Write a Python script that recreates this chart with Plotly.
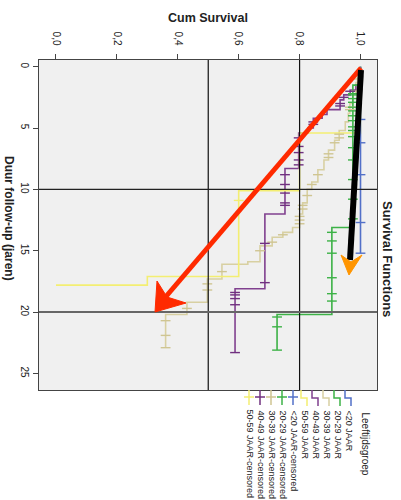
import plotly.graph_objects as go

# ---------------- data ----------------
groups = ["<20 JAAR", "20-29 JAAR", "30-39 JAAR", "40-49 JAAR", "50-59 JAAR"]

t_lt20 = [0.0, 15.2]
s_lt20 = [1.0, 1.0]
c_lt20 = [4.3, 6.2, 8.8, 12.7, 15.2]

t_2029 = [0.0, 1.5, 13.1, 20.2, 23.1]
s_2029 = [1.0, 0.975, 0.906, 0.726, 0.726]
c_2029 = [2.2, 2.3, 2.6, 2.9, 3.3, 3.6, 4.0, 4.4, 4.9, 5.2, 5.7, 6.6, 7.6, 9.2,
          10.8, 12.4, 13.5, 14.2, 15.2, 17.2, 18.5, 19.1, 20.4, 21.2, 23.1]

t_3039 = [0.0, 0.6, 1.3, 2.2, 3.0, 3.8, 4.5, 5.2, 6.0, 6.8, 7.6, 8.4, 9.4, 10.0,
          11.1, 12.0, 13.1, 13.5, 13.9, 14.6, 15.9, 16.1, 17.3, 19.2, 20.2, 22.9]
s_3039 = [1.0, 0.99, 0.985, 0.975, 0.965, 0.96, 0.95, 0.93, 0.915, 0.895, 0.88,
          0.86, 0.84, 0.825, 0.81, 0.80, 0.777, 0.745, 0.71, 0.67, 0.63, 0.545,
          0.497, 0.43, 0.36, 0.36]
c_3039 = [1.0, 2.0, 3.3, 3.5, 5.5, 5.8, 6.2, 7.1, 7.4, 8.8, 9.6, 10.5, 11.3, 11.6,
          12.2, 12.5, 12.8, 13.7, 14.3, 15.0, 16.7, 17.7, 18.2, 19.7, 20.7, 21.9, 22.9]

t_4049 = [0.0, 1.5, 1.9, 2.3, 2.7, 3.5, 3.9, 4.2, 5.0, 5.4, 8.3, 12.0, 18.1, 23.3]
s_4049 = [1.0, 0.985, 0.966, 0.945, 0.933, 0.89, 0.874, 0.845, 0.828, 0.797,
          0.752, 0.686, 0.588, 0.588]
c_4049 = [2.0, 2.5, 3.0, 3.2, 4.5, 4.7, 5.8, 6.5, 7.0, 7.6, 8.0, 8.8, 9.6, 10.3,
          11.1, 11.3, 14.4, 17.6, 18.4, 18.6, 18.9, 19.4, 23.3]

t_5059 = [0.0, 5.4, 10.1, 17.1, 17.8]
s_5059 = [1.0, 0.8, 0.6, 0.3, 0.0]
c_5059 = [10.9]

x_ticks = [0.0, 0.2, 0.4, 0.6, 0.8, 1.0]
x_ticktext = ["0,0", "0,2", "0,4", "0,6", "0,8", "1,0"]
y_ticks = [0, 5, 10, 15, 20, 25]
ref_surv = [0.5, 0.8]
ref_time = [10, 20]

# ---------------- styling ----------------
line_colors = ["#5270c8", "#3db247", "#d8d0a2", "#80408f", "#f3ee72"]
cens_colors = ["#5270c8", "#3db247", "#cfc592", "#70307f", "#f3ee72"]

W, H = 401, 500
L, R, T, B = 39, 24, 60, 110
XMIN, XMAX = -0.0558, 1.0542
YMIN, YMAX = -0.546, 26.35


def px2d(px, py):
    v = XMIN + (px - L) / (W - L - R) * (XMAX - XMIN)
    t = YMIN + (py - T) / (H - T - B) * (YMAX - YMIN)
    return v, t


def px2p(px, py):
    return (px - L) / (W - L - R), (H - B - py) / (H - T - B)


def surv_at(times, surv, c):
    v = surv[0]
    for ti, si in zip(times, surv):
        if ti <= c + 1e-9:
            v = si
    return v


fig = go.Figure()
series = [(t_lt20, s_lt20, c_lt20), (t_2029, s_2029, c_2029), (t_3039, s_3039, c_3039),
          (t_4049, s_4049, c_4049), (t_5059, s_5059, c_5059)]
order = [2, 3, 4, 1, 0]
for i in order:
    tt, ss, cc = series[i]
    fig.add_trace(go.Scatter(x=ss, y=tt, mode="lines", line_shape="vh",
                             line=dict(color=line_colors[i], width=1.6),
                             name=groups[i], hoverinfo="skip"))
for i in order:
    tt, ss, cc = series[i]
    fig.add_trace(go.Scatter(x=[surv_at(tt, ss, c) for c in cc], y=cc, mode="markers",
                             marker=dict(symbol="line-ew", size=7,
                                         line=dict(color=cens_colors[i], width=1.4)),
                             name=groups[i] + "-censored", hoverinfo="skip"))

shapes = []
for v in ref_surv:
    shapes.append(dict(type="line", xref="x", yref="paper", x0=v, x1=v, y0=0, y1=1,
                       line=dict(color="#111", width=1.2)))
for t, c, w in zip(ref_time, ["#222", "#666"], [1.2, 2]):
    shapes.append(dict(type="line", xref="paper", yref="y", x0=0, x1=1, y0=t, y1=t,
                       line=dict(color=c, width=w)))

# hand-drawn arrows (decorations)
a0 = px2d(361, 68); a1 = px2d(163, 300)
shapes.append(dict(type="line", xref="x", yref="y", x0=a0[0], y0=a0[1], x1=a1[0], y1=a1[1],
                   line=dict(color="#ff2a00", width=5)))
hd = [px2d(*p) for p in [(155, 312), (157, 281), (167, 297), (186, 303)]]
shapes.append(dict(type="path", xref="x", yref="y",
                   path="M {} {} L {} {} L {} {} L {} {} Z".format(*[c for p in hd for c in p]),
                   fillcolor="#ff2a00", line=dict(color="#ff2a00", width=1)))
b0 = px2d(361, 70); b1 = px2d(350, 260)
shapes.append(dict(type="line", xref="x", yref="y", x0=b0[0], y0=b0[1], x1=b1[0], y1=b1[1],
                   line=dict(color="black", width=6)))
oh = [px2d(*p) for p in [(341, 255), (351, 262), (362, 255), (349, 275)]]
shapes.append(dict(type="path", xref="x", yref="y",
                   path="M {} {} L {} {} L {} {} L {} {} Z".format(*[c for p in oh for c in p]),
                   fillcolor="#ff9500", line=dict(color="#ff9500", width=1)))

annotations = []


def ann(text, px, py, size, angle=0, xa="center", ya="middle"):
    cx, cy = px2p(px, py)
    annotations.append(dict(text=text, xref="paper", yref="paper", x=cx, y=cy,
                            showarrow=False, textangle=angle, xanchor=xa, yanchor=ya,
                            font=dict(size=size, color="#222")))


ann("<b>Cum Survival</b>", 208, 18, 12.5)
ann("<b>Duur follow-up (jaren)</b>", 9, 218, 12, 90)
ann("<b>Survival Functions</b>", 388, 259, 13, 90)

# custom rotated legend
ann("Leeftijdsgroep", 365, 410, 10, 90, "center", "top")
labels = groups + [g + "-censored" for g in groups]
for k, lab in enumerate(labels):
    px = 348 - 11 * k
    ann(lab, px, 408, 9, 90, "center", "top")
    if k < 5:
        col = line_colors[k]
        p = [px2p(*q) for q in [(px - 3, 390), (px - 3, 398), (px + 3, 398), (px + 3, 406)]]
        shapes.append(dict(type="path", xref="paper", yref="paper",
                           path="M {} {} L {} {} L {} {} L {} {}".format(*[c for q in p for c in q]),
                           line=dict(color=col, width=1.5)))
    else:
        col = cens_colors[k - 5]
        p0 = px2p(px, 390); p1 = px2p(px, 405)
        shapes.append(dict(type="line", xref="paper", yref="paper", x0=p0[0], y0=p0[1],
                           x1=p1[0], y1=p1[1], line=dict(color=col, width=1.5)))
        p0 = px2p(px - 5, 397); p1 = px2p(px + 5, 397)
        shapes.append(dict(type="line", xref="paper", yref="paper", x0=p0[0], y0=p0[1],
                           x1=p1[0], y1=p1[1], line=dict(color=col, width=1.5)))

fig.update_layout(width=W, height=H, margin=dict(l=L, r=R, t=T, b=B),
                  paper_bgcolor="white", plot_bgcolor="#f0f0f0", showlegend=False,
                  font=dict(family="Liberation Sans, Arial, sans-serif", size=10, color="#222"),
                  shapes=shapes, annotations=annotations)
fig.update_xaxes(side="top", range=[XMIN, XMAX], tickvals=x_ticks, ticktext=x_ticktext,
                 tickangle=90, ticks="outside", ticklen=5, tickcolor="#444",
                 showline=True, linecolor="#444", linewidth=1, mirror=True,
                 showgrid=False, zeroline=False, tickfont=dict(size=10),
                 ticklabelstandoff=5)
fig.update_yaxes(range=[YMAX, YMIN], tickvals=y_ticks, tickangle=90, ticks="outside",
                 ticklen=5, tickcolor="#444", showline=True, linecolor="#444", linewidth=1,
                 mirror=True, showgrid=False, zeroline=False, tickfont=dict(size=10))

fig.write_html("out.html")
